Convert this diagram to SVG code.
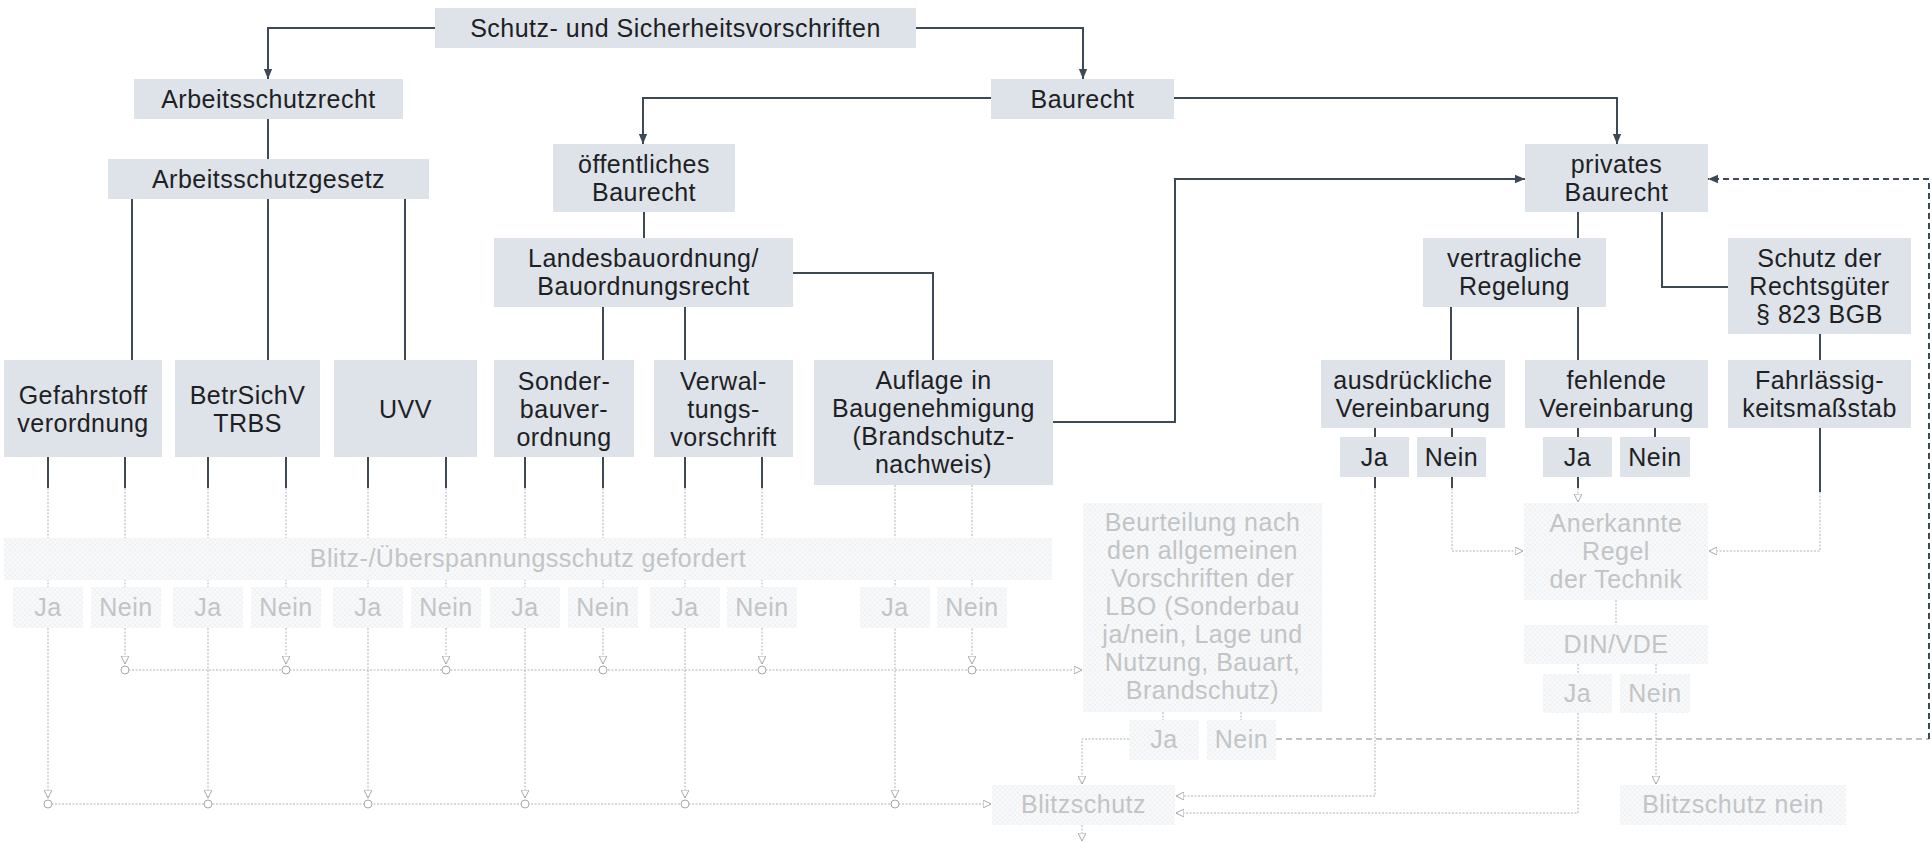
<svg xmlns="http://www.w3.org/2000/svg" width="1932" height="842" viewBox="0 0 1932 842">
<style>
.box{fill:#dde3e8}
.gbox{fill:url(#grid)}
.t{font-family:"Liberation Sans",Arial,sans-serif;font-size:25px;letter-spacing:0.5px;fill:#1e2124;text-anchor:middle}
.gt{font-family:"Liberation Sans",Arial,sans-serif;font-size:25px;letter-spacing:0.5px;fill:#c2c4c6;text-anchor:middle}
.c{stroke:#3d4954;stroke-width:2;fill:none}
.gc{stroke:#b2b2b2;stroke-width:1;stroke-dasharray:2 1.5;fill:none}
.dk{stroke:#3d4954;stroke-width:2;stroke-dasharray:6 4;fill:none}
.dl{stroke:#a9b0b6;stroke-width:1.5;stroke-dasharray:6 4;fill:none}
.jn{fill:#ffffff;stroke:#a8a8a8;stroke-width:1}
</style>
<defs>
<pattern id="grid" width="5" height="5" patternUnits="userSpaceOnUse">
<rect width="5" height="5" fill="#f8f9fa"/>
<path d="M0,0 L5,5 M5,0 L0,5" stroke="#e6e9ec" stroke-width="0.5"/>
</pattern>
<marker id="ar" markerWidth="10" markerHeight="12" refX="12" refY="5" orient="auto" markerUnits="userSpaceOnUse" viewBox="0 0 12 10">
<path d="M0,0 L12,5 L0,10 z" fill="#3d4954"/>
</marker>
<marker id="ga" markerWidth="8" markerHeight="8" refX="8" refY="4" orient="auto" markerUnits="userSpaceOnUse" viewBox="0 0 8 8">
<path d="M0,0 L8,4 L0,8 z" fill="#ffffff" stroke="#a8a8a8" stroke-width="1"/>
</marker>
</defs>
<rect width="1932" height="842" fill="#ffffff"/>

<g id="connectors">
<path class="c" d="M435,28 H268 V79" marker-end="url(#ar)"/>
<path class="c" d="M916,28 H1083 V79" marker-end="url(#ar)"/>
<path class="c" d="M268,119 V159"/>
<path class="c" d="M132,199 V360 M268,199 V360 M405,199 V360"/>
<path class="c" d="M991,98 H643 V144" marker-end="url(#ar)"/>
<path class="c" d="M1174,98 H1617 V144" marker-end="url(#ar)"/>
<path class="c" d="M644,212 V238"/>
<path class="c" d="M603,307 V360 M685,307 V360"/>
<path class="c" d="M793,273 H933 V360"/>
<path class="c" d="M1053,422 H1175 V179 H1525" marker-end="url(#ar)"/>
<path class="c" d="M1578,212 V238"/>
<path class="c" d="M1662,212 V287 H1728"/>
<path class="c" d="M1451,307 V360 M1578,307 V360"/>
<path class="c" d="M1820,334 V360"/>
<path class="c" d="M1375,428 V437 M1452,428 V437 M1578,428 V437 M1655,428 V437"/>
<path class="c" d="M48,457 V488 M125,457 V488 M208,457 V488 M286,457 V488 M368,457 V488 M446,457 V488 M525,457 V488 M603,457 V488 M685,457 V488 M762,457 V488"/>
<path class="c" d="M1375,477 V488 M1452,477 V488 M1578,477 V488 M1820,428 V492"/>
<path class="dl" d="M1276,739 H1929"/>
<path class="dk" d="M1929,739 V179 H1708" marker-end="url(#ar)"/>
<path class="gc" d="M48,488 V798" marker-end="url(#ga)"/>
<path class="gc" d="M208,488 V798" marker-end="url(#ga)"/>
<path class="gc" d="M368,488 V798" marker-end="url(#ga)"/>
<path class="gc" d="M525,488 V798" marker-end="url(#ga)"/>
<path class="gc" d="M685,488 V798" marker-end="url(#ga)"/>
<path class="gc" d="M895,485 V798" marker-end="url(#ga)"/>
<path class="gc" d="M125,488 V664" marker-end="url(#ga)"/>
<path class="gc" d="M286,488 V664" marker-end="url(#ga)"/>
<path class="gc" d="M446,488 V664" marker-end="url(#ga)"/>
<path class="gc" d="M603,488 V664" marker-end="url(#ga)"/>
<path class="gc" d="M762,488 V664" marker-end="url(#ga)"/>
<path class="gc" d="M972,485 V664" marker-end="url(#ga)"/>
<path class="gc" d="M125,670 H1082" marker-end="url(#ga)"/>
<path class="gc" d="M48,804 H991" marker-end="url(#ga)"/>
<path class="gc" d="M1163,712 V720 M1241,712 V720"/>
<path class="gc" d="M1129,739 H1082 V784" marker-end="url(#ga)"/>
<path class="gc" d="M1082,825 V841" marker-end="url(#ga)"/>
<path class="gc" d="M1375,488 V796 H1176" marker-end="url(#ga)"/>
<path class="gc" d="M1452,488 V551 H1523" marker-end="url(#ga)"/>
<path class="gc" d="M1578,488 V502" marker-end="url(#ga)"/>
<path class="gc" d="M1820,492 V551 H1709" marker-end="url(#ga)"/>
<path class="gc" d="M1616,600 V625"/>
<path class="gc" d="M1578,664 V674 M1656,664 V674"/>
<path class="gc" d="M1578,713 V813 H1176" marker-end="url(#ga)"/>
<path class="gc" d="M1656,713 V784" marker-end="url(#ga)"/>
<g class="jn">
<circle cx="125" cy="670" r="4"/><circle cx="286" cy="670" r="4"/><circle cx="446" cy="670" r="4"/><circle cx="603" cy="670" r="4"/><circle cx="762" cy="670" r="4"/><circle cx="972" cy="670" r="4"/>
<circle cx="48" cy="804" r="4"/><circle cx="208" cy="804" r="4"/><circle cx="368" cy="804" r="4"/><circle cx="525" cy="804" r="4"/><circle cx="685" cy="804" r="4"/><circle cx="895" cy="804" r="4"/>
</g>
</g>

<g id="n-top"><rect class="box" x="435" y="8" width="481" height="40"/><text class="t" x="675.5" y="37">Schutz- und Sicherheitsvorschriften</text></g>
<g id="n-arbeitsschutzrecht"><rect class="box" x="134" y="79" width="269" height="40"/><text class="t" x="268.5" y="108">Arbeitsschutzrecht</text></g>
<g id="n-arbeitsschutzgesetz"><rect class="box" x="108" y="159" width="321" height="40"/><text class="t" x="268.5" y="188">Arbeitsschutzgesetz</text></g>
<g id="n-baurecht"><rect class="box" x="991" y="79" width="183" height="40"/><text class="t" x="1082.5" y="108">Baurecht</text></g>
<g id="n-oeffentlich"><rect class="box" x="553" y="144" width="182" height="68"/><text class="t" x="644" y="173"><tspan x="644">öffentliches</tspan><tspan x="644" dy="28">Baurecht</tspan></text></g>
<g id="n-privat"><rect class="box" x="1525" y="144" width="183" height="68"/><text class="t" x="1616.5" y="173"><tspan x="1616.5">privates</tspan><tspan x="1616.5" dy="28">Baurecht</tspan></text></g>
<g id="n-lbo"><rect class="box" x="494" y="238" width="299" height="69"/><text class="t" x="643.5" y="267"><tspan x="643.5">Landesbauordnung/</tspan><tspan x="643.5" dy="28">Bauordnungsrecht</tspan></text></g>
<g id="n-vertraglich"><rect class="box" x="1423" y="238" width="183" height="69"/><text class="t" x="1514.5" y="267"><tspan x="1514.5">vertragliche</tspan><tspan x="1514.5" dy="28">Regelung</tspan></text></g>
<g id="n-schutz"><rect class="box" x="1728" y="238" width="183" height="96"/><text class="t" x="1819.5" y="267"><tspan x="1819.5">Schutz der</tspan><tspan x="1819.5" dy="28">Rechtsgüter</tspan><tspan x="1819.5" dy="28">§ 823 BGB</tspan></text></g>
<g id="n-gefahrstoff"><rect class="box" x="4" y="360" width="158" height="97"/><text class="t" x="83" y="404"><tspan x="83">Gefahrstoff</tspan><tspan x="83" dy="28">verordnung</tspan></text></g>
<g id="n-betrsichv"><rect class="box" x="175" y="360" width="145" height="97"/><text class="t" x="247.5" y="404"><tspan x="247.5">BetrSichV</tspan><tspan x="247.5" dy="28">TRBS</tspan></text></g>
<g id="n-uvv"><rect class="box" x="334" y="360" width="143" height="97"/><text class="t" x="405.5" y="418">UVV</text></g>
<g id="n-sonder"><rect class="box" x="494" y="360" width="140" height="97"/><text class="t" x="564" y="390"><tspan x="564">Sonder-</tspan><tspan x="564" dy="28">bauver-</tspan><tspan x="564" dy="28">ordnung</tspan></text></g>
<g id="n-verwal"><rect class="box" x="654" y="360" width="139" height="97"/><text class="t" x="723.5" y="390"><tspan x="723.5">Verwal-</tspan><tspan x="723.5" dy="28">tungs-</tspan><tspan x="723.5" dy="28">vorschrift</tspan></text></g>
<g id="n-auflage"><rect class="box" x="814" y="360" width="239" height="125"/><text class="t" x="933.5" y="389"><tspan x="933.5">Auflage in</tspan><tspan x="933.5" dy="28">Baugenehmigung</tspan><tspan x="933.5" dy="28">(Brandschutz-</tspan><tspan x="933.5" dy="28">nachweis)</tspan></text></g>
<g id="n-ausdr"><rect class="box" x="1321" y="360" width="184" height="68"/><text class="t" x="1413" y="389"><tspan x="1413">ausdrückliche</tspan><tspan x="1413" dy="28">Vereinbarung</tspan></text></g>
<g id="n-fehlend"><rect class="box" x="1525" y="360" width="183" height="68"/><text class="t" x="1616.5" y="389"><tspan x="1616.5">fehlende</tspan><tspan x="1616.5" dy="28">Vereinbarung</tspan></text></g>
<g id="n-fahrl"><rect class="box" x="1728" y="360" width="183" height="68"/><text class="t" x="1819.5" y="389"><tspan x="1819.5">Fahrlässig-</tspan><tspan x="1819.5" dy="28">keitsmaßstab</tspan></text></g>
<g id="n-ausdr-ja"><rect class="box" x="1340" y="437" width="69" height="40"/><text class="t" x="1374.5" y="466">Ja</text></g>
<g id="n-ausdr-nein"><rect class="box" x="1417" y="437" width="69" height="40"/><text class="t" x="1451.5" y="466">Nein</text></g>
<g id="n-fehl-ja"><rect class="box" x="1543" y="437" width="69" height="40"/><text class="t" x="1577.5" y="466">Ja</text></g>
<g id="n-fehl-nein"><rect class="box" x="1620" y="437" width="70" height="40"/><text class="t" x="1655" y="466">Nein</text></g>

<g id="n-banner"><rect class="gbox" x="4" y="538" width="1048" height="42"/><text class="gt" x="528" y="567">Blitz-/Überspannungsschutz gefordert</text></g>
<g id="n-g-ja1"><rect class="gbox" x="13" y="587" width="70" height="41"/><text class="gt" x="48" y="616">Ja</text></g>
<g id="n-g-nein1"><rect class="gbox" x="91" y="587" width="70" height="41"/><text class="gt" x="126" y="616">Nein</text></g>
<g id="n-g-ja2"><rect class="gbox" x="173" y="587" width="70" height="41"/><text class="gt" x="208" y="616">Ja</text></g>
<g id="n-g-nein2"><rect class="gbox" x="251" y="587" width="70" height="41"/><text class="gt" x="286" y="616">Nein</text></g>
<g id="n-g-ja3"><rect class="gbox" x="333" y="587" width="70" height="41"/><text class="gt" x="368" y="616">Ja</text></g>
<g id="n-g-nein3"><rect class="gbox" x="411" y="587" width="70" height="41"/><text class="gt" x="446" y="616">Nein</text></g>
<g id="n-g-ja4"><rect class="gbox" x="490" y="587" width="70" height="41"/><text class="gt" x="525" y="616">Ja</text></g>
<g id="n-g-nein4"><rect class="gbox" x="568" y="587" width="70" height="41"/><text class="gt" x="603" y="616">Nein</text></g>
<g id="n-g-ja5"><rect class="gbox" x="650" y="587" width="70" height="41"/><text class="gt" x="685" y="616">Ja</text></g>
<g id="n-g-nein5"><rect class="gbox" x="727" y="587" width="70" height="41"/><text class="gt" x="762" y="616">Nein</text></g>
<g id="n-g-ja6"><rect class="gbox" x="860" y="587" width="70" height="41"/><text class="gt" x="895" y="616">Ja</text></g>
<g id="n-g-nein6"><rect class="gbox" x="937" y="587" width="70" height="41"/><text class="gt" x="972" y="616">Nein</text></g>
<g id="n-beurteilung"><rect class="gbox" x="1083" y="503" width="239" height="209"/>
<text class="gt" x="1202.5" y="531"><tspan x="1202.5">Beurteilung nach</tspan><tspan x="1202.5" dy="28">den allgemeinen</tspan><tspan x="1202.5" dy="28">Vorschriften der</tspan><tspan x="1202.5" dy="28">LBO (Sonderbau</tspan><tspan x="1202.5" dy="28">ja/nein, Lage und</tspan><tspan x="1202.5" dy="28">Nutzung, Bauart,</tspan><tspan x="1202.5" dy="28">Brandschutz)</tspan></text></g>
<g id="n-b-ja"><rect class="gbox" x="1129" y="720" width="70" height="40"/><text class="gt" x="1164" y="748">Ja</text></g>
<g id="n-b-nein"><rect class="gbox" x="1207" y="720" width="69" height="40"/><text class="gt" x="1241.5" y="748">Nein</text></g>
<g id="n-blitzschutz"><rect class="gbox" x="992" y="785" width="183" height="40"/><text class="gt" x="1083.5" y="813">Blitzschutz</text></g>
<g id="n-anerkannt"><rect class="gbox" x="1524" y="503" width="184" height="97"/><text class="gt" x="1616" y="532"><tspan x="1616">Anerkannte</tspan><tspan x="1616" dy="28">Regel</tspan><tspan x="1616" dy="28">der Technik</tspan></text></g>
<g id="n-dinvde"><rect class="gbox" x="1524" y="625" width="184" height="39"/><text class="gt" x="1616" y="653">DIN/VDE</text></g>
<g id="n-d-ja"><rect class="gbox" x="1543" y="674" width="69" height="39"/><text class="gt" x="1577.5" y="702">Ja</text></g>
<g id="n-d-nein"><rect class="gbox" x="1620" y="674" width="70" height="39"/><text class="gt" x="1655" y="702">Nein</text></g>
<g id="n-blitz-nein"><rect class="gbox" x="1620" y="785" width="226" height="40"/><text class="gt" x="1733" y="813">Blitzschutz nein</text></g>
</svg>
